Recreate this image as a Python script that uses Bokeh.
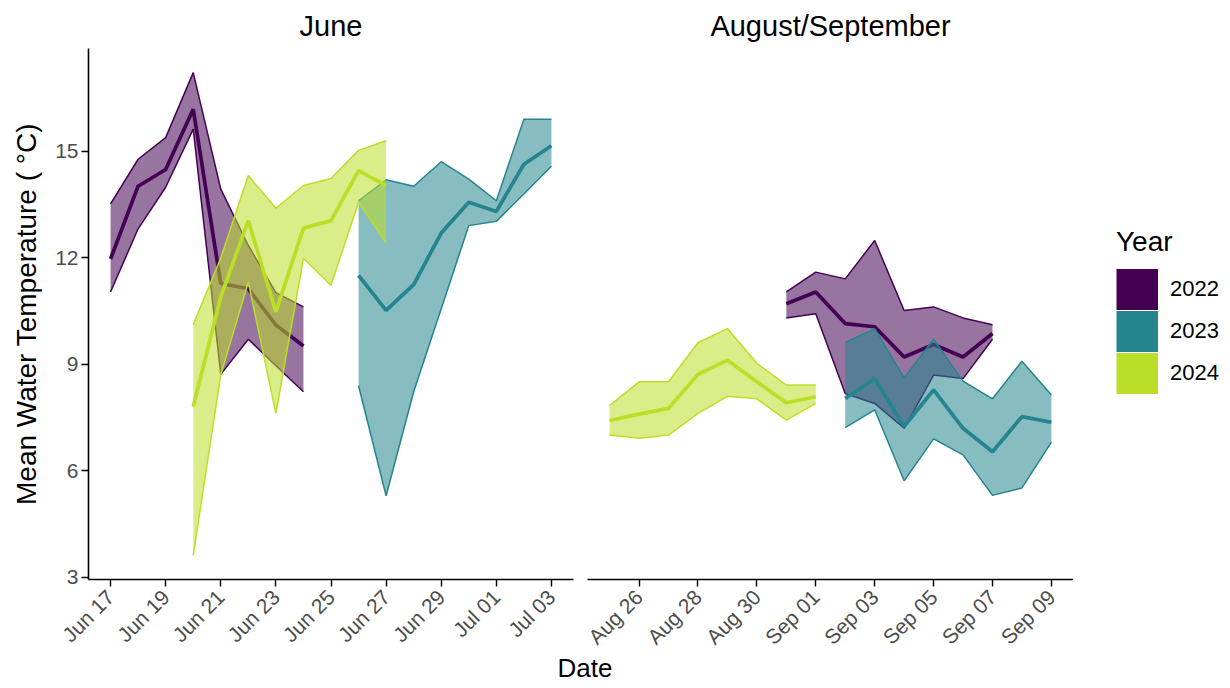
import math
import pandas as pd
from bokeh.plotting import figure
from bokeh.models import (Range1d, FixedTicker, DatetimeTickFormatter, Legend, LegendItem,
                          ColumnDataSource, Div)
from bokeh.layouts import row, column
from bokeh.embed import file_html
from bokeh.resources import INLINE

# ---------------- data ----------------
years = ["2022", "2023", "2024"]
colors = ["#440154", "#25858E", "#BBDF27"]

# June panel
jun_2022_dates = ["06-17", "06-18", "06-19", "06-20", "06-21", "06-22", "06-23", "06-24"]
jun_2022_mean = [11.97, 14.02, 14.49, 16.19, 11.28, 11.13, 10.11, 9.52]
jun_2022_upper = [13.52, 14.78, 15.39, 17.22, 13.94, 12.35, 11.02, 10.62]
jun_2022_lower = [11.04, 12.82, 13.99, 15.63, 8.72, 9.71, 8.96, 8.23]

jun_2023_dates = ["06-26", "06-27", "06-28", "06-29", "06-30", "07-01", "07-02", "07-03"]
jun_2023_mean = [11.51, 10.52, 11.25, 12.70, 13.57, 13.31, 14.64, 15.16]
jun_2023_upper = [13.61, 14.20, 14.02, 14.71, 14.22, 13.61, 15.91, 15.91]
jun_2023_lower = [8.40, 5.30, 8.23, 10.57, 12.91, 13.03, 13.80, 14.58]

jun_2024_dates = ["06-20", "06-21", "06-22", "06-23", "06-24", "06-25", "06-26", "06-27"]
jun_2024_mean = [7.81, 10.90, 13.05, 10.48, 12.84, 13.05, 14.46, 14.04]
jun_2024_upper = [10.12, 12.00, 14.32, 13.40, 14.04, 14.24, 15.03, 15.30]
jun_2024_lower = [3.62, 8.71, 11.32, 7.62, 11.99, 11.23, 13.57, 12.42]

# August/September panel
aug_2022_dates = ["08-31", "09-01", "09-02", "09-03", "09-04", "09-05", "09-06", "09-07"]
aug_2022_mean = [10.71, 11.04, 10.15, 10.06, 9.21, 9.56, 9.21, 9.87]
aug_2022_upper = [11.04, 11.60, 11.41, 12.49, 10.52, 10.62, 10.31, 10.12]
aug_2022_lower = [10.31, 10.43, 8.18, 7.90, 7.20, 8.70, 8.60, 9.71]

aug_2023_dates = ["09-02", "09-03", "09-04", "09-05", "09-06", "09-07", "09-08", "09-09"]
aug_2023_mean = [8.04, 8.60, 7.25, 8.28, 7.20, 6.54, 7.53, 7.37]
aug_2023_upper = [9.61, 10.01, 8.62, 9.71, 8.53, 8.03, 9.09, 8.14]
aug_2023_lower = [7.22, 7.72, 5.72, 6.90, 6.45, 5.31, 5.52, 6.81]

aug_2024_dates = ["08-25", "08-26", "08-27", "08-28", "08-29", "08-30", "08-31", "09-01"]
aug_2024_mean = [7.42, 7.60, 7.76, 8.72, 9.12, 8.51, 7.92, 8.09]
aug_2024_upper = [7.84, 8.51, 8.51, 9.61, 10.01, 9.03, 8.42, 8.42]
aug_2024_lower = [7.01, 6.92, 7.01, 7.62, 8.10, 8.03, 7.43, 7.90]

june_ticks = ["06-17", "06-19", "06-21", "06-23", "06-25", "06-27", "06-29", "07-01", "07-03"]
aug_ticks = ["08-26", "08-28", "08-30", "09-01", "09-03", "09-05", "09-07", "09-09"]
y_ticks = [3, 6, 9, 12, 15]

panel_titles = ["June", "August/September"]
y_label = "Mean Water Temperature ( \u00b0C)"
x_label = "Date"
legend_title = "Year"

# ---------------- helpers ----------------
FONT = "Liberation Sans"
TICK_SIZE = "21px"
YLABEL_SIZE = "28px"
XLABEL_SIZE = "26px"
LEGEND_TITLE_SIZE = "28px"
STRIP_SIZE = "29px"
LEGEND_LABEL_SIZE = "22px"


def to_dt(md):
    return pd.to_datetime(["2024-" + s for s in md])


def to_ms(md):
    return [t.value / 1e6 for t in to_dt(md)]


june_series = [
    (jun_2022_dates, jun_2022_mean, jun_2022_upper, jun_2022_lower),
    (jun_2023_dates, jun_2023_mean, jun_2023_upper, jun_2023_lower),
    (jun_2024_dates, jun_2024_mean, jun_2024_upper, jun_2024_lower),
]
aug_series = [
    (aug_2022_dates, aug_2022_mean, aug_2022_upper, aug_2022_lower),
    (aug_2023_dates, aug_2023_mean, aug_2023_upper, aug_2023_lower),
    (aug_2024_dates, aug_2024_mean, aug_2024_upper, aug_2024_lower),
]

all_vals = []
for s in june_series + aug_series:
    all_vals += s[2] + s[3]
ymin, ymax = min(all_vals), max(all_vals)
ypad = 0.05 * (ymax - ymin)
y_range = Range1d(ymin - ypad, ymax + ypad)


def x_range_for(series):
    ms = []
    for s in series:
        ms += to_ms(s[0])
    lo, hi = min(ms), max(ms)
    pad = 0.05 * (hi - lo)
    return Range1d(lo - pad, hi + pad)


def style_axis_common(ax):
    ax.major_label_text_font = FONT
    ax.major_label_text_font_size = TICK_SIZE
    ax.major_label_text_color = "#4D4D4D"
    ax.axis_line_color = "black"
    ax.axis_line_width = 1.6
    ax.major_tick_line_color = "black"
    ax.major_tick_line_width = 1.4
    ax.major_tick_out = 7
    ax.major_tick_in = 0
    ax.minor_tick_line_color = None


def style_x_axis(p, ticks):
    ax = p.xaxis[0]
    ax.ticker = FixedTicker(ticks=to_ms(ticks))
    fmt = "%b %d"
    ax.formatter = DatetimeTickFormatter(days=fmt, months=fmt, hours=fmt, years=fmt,
                                         minutes=fmt, hourmin=fmt, minsec=fmt,
                                         seconds=fmt, milliseconds=fmt, microseconds=fmt)
    ax.major_label_orientation = math.pi / 4
    style_axis_common(ax)
    ax.major_label_standoff = 7


def make_source(dates, mean, upper, lower):
    return ColumnDataSource(dict(x=to_dt(dates), mean=mean, upper=upper, lower=lower))


def draw_series(p, series):
    for (dates, mean, upper, lower), col in zip(series, colors):
        src = make_source(dates, mean, upper, lower)
        p.varea(x="x", y1="lower", y2="upper", source=src, fill_color=col, fill_alpha=0.55)
        p.line(x="x", y="upper", source=src, line_color=col, line_width=1.5)
        p.line(x="x", y="lower", source=src, line_color=col, line_width=1.5)
        p.line(x="x", y="mean", source=src, line_color=col, line_width=3.7)


H = 660


def base_fig(title, width, xr, ml, mr):
    p = figure(width=width, height=H, x_axis_type="datetime", x_range=xr, y_range=y_range,
               output_backend="svg", toolbar_location=None, title=title,
               min_border_left=ml, min_border_right=mr, min_border_top=46,
               min_border_bottom=H - 579)
    p.title.align = "center"
    p.title.text_font = FONT
    p.title.text_font_size = STRIP_SIZE
    p.title.text_font_style = "normal"
    p.title.text_color = "black"
    p.title.standoff = 14
    p.outline_line_color = None
    p.xgrid.grid_line_color = None
    p.ygrid.grid_line_color = None
    p.background_fill_color = "white"
    return p


# ---------------- left panel ----------------
p1 = base_fig(panel_titles[0], 580, x_range_for(june_series), 88, 7)
draw_series(p1, june_series)
style_x_axis(p1, june_ticks)
ay = p1.yaxis[0]
ay.ticker = FixedTicker(ticks=y_ticks)
style_axis_common(ay)
ay.major_label_standoff = 3
ay.axis_label = y_label
ay.axis_label_text_font = FONT
ay.axis_label_text_font_size = YLABEL_SIZE
ay.axis_label_text_font_style = "normal"
ay.axis_label_text_color = "black"
ay.axis_label_standoff = 10

# ---------------- right panel ----------------
p2 = base_fig(panel_titles[1], 493, x_range_for(aug_series), 7, 0)
draw_series(p2, aug_series)
style_x_axis(p2, aug_ticks)
p2.yaxis.visible = False

# ---------------- legend panel ----------------
# proxies use the real series data; the legend panel's ranges keep them out of view.
# a thick butt-capped line gives a legend swatch that fills the whole glyph box.
pl = figure(width=149, height=H, output_backend="svg", toolbar_location=None,
            x_range=Range1d(0, 1), y_range=Range1d(0, 1),
            min_border_left=0, min_border_right=0, min_border_top=0, min_border_bottom=0,
            x_axis_type=None, y_axis_type=None)
pl.outline_line_color = None
pl.xgrid.grid_line_color = None
pl.ygrid.grid_line_color = None
items = []
for yr, col, s in zip(years, colors, june_series):
    src = make_source(*s)
    r = pl.line(x="x", y="mean", source=src, line_color=col, line_width=41, line_cap="butt")
    items.append(LegendItem(label=yr, renderers=[r]))
legend = Legend(items=items, title=legend_title, location=(43, 185))
legend.title_text_font = FONT
legend.title_text_font_size = LEGEND_TITLE_SIZE
legend.title_text_font_style = "normal"
legend.title_text_color = "black"
legend.title_standoff = 10
legend.label_text_font = FONT
legend.label_text_font_size = LEGEND_LABEL_SIZE
legend.label_text_color = "black"
legend.glyph_width = 42
legend.glyph_height = 42
legend.spacing = 0
legend.label_standoff = 12
legend.padding = 0
legend.margin = 0
legend.border_line_color = None
legend.background_fill_alpha = 0
pl.add_layout(legend)

date_div = Div(text=x_label, width=1160, height=24,
               styles={"text-align": "center", "font-size": XLABEL_SIZE, "font-family": FONT,
                       "color": "black", "line-height": "24px", "position": "relative",
                       "top": "-9px"})

layout = column(row(p1, p2, pl), date_div)

open("out.html", "w").write(file_html(layout, INLINE))
